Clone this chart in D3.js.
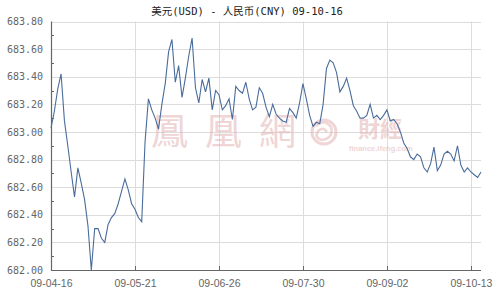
<!DOCTYPE html>
<html>
<head>
<meta charset="utf-8">
<script src="https://cdn.jsdelivr.net/npm/d3@7"></script>
<style>
  body { margin: 0; background: #fff; }
  svg { display: block; }
</style>
</head>
<body>
<div id="chart"></div>
<script>
// USD / CNY daily rate, 09-04-16 .. 09-10-16
const title = "美元(USD) - 人民币(CNY)  09-10-16";
const tickLabels = ["09-04-16", "09-05-21", "09-06-26", "09-07-30", "09-09-02", "09-10-13"];
const tickIndex = [0, 25, 50, 75, 100, 125];
const yTicks = [682.0, 682.2, 682.4, 682.6, 682.8, 683.0, 683.2, 683.4, 683.6, 683.8];
const yMinor = [682.1, 682.3, 682.5, 682.7, 682.9, 683.1, 683.3, 683.5, 683.7];
const rates = [
  683.03, 683.15, 683.31, 683.42, 683.08, 682.90, 682.71, 682.53, 682.74, 682.63,
  682.51, 682.32, 682.00, 682.30, 682.30, 682.23, 682.20, 682.33, 682.38, 682.41,
  682.48, 682.57, 682.66, 682.58, 682.48, 682.44, 682.38, 682.35, 682.93, 683.24,
  683.16, 683.10, 683.02, 683.20, 683.35, 683.58, 683.67, 683.36, 683.48, 683.25,
  683.39, 683.55, 683.68, 683.32, 683.21, 683.38, 683.29, 683.39, 683.16, 683.30,
  683.27, 683.16, 683.19, 683.24, 683.09, 683.33, 683.30, 683.28, 683.36, 683.24,
  683.16, 683.18, 683.32, 683.28, 683.18, 683.11, 683.20, 683.13, 683.10, 683.08,
  683.07, 683.17, 683.14, 683.10, 683.21, 683.35, 683.24, 683.12, 683.04, 683.07,
  683.06, 683.20, 683.46, 683.52, 683.50, 683.43, 683.29, 683.33, 683.39, 683.30,
  683.19, 683.15, 683.10, 683.10, 683.12, 683.20, 683.10, 683.12, 683.09, 683.12,
  683.16, 683.08, 683.09, 683.06, 683.00, 682.92, 682.88, 682.82, 682.80, 682.84,
  682.82, 682.74, 682.71, 682.77, 682.89, 682.72, 682.76, 682.84, 682.86, 682.84,
  682.79, 682.90, 682.76, 682.71, 682.74, 682.71, 682.69, 682.67, 682.71
];

const W = 500, H = 300;
const plotL = 51, plotR = 481, plotT = 21.5, plotB = 270;

const svg = d3.select("#chart")
  .append("svg")
    .attr("width", W)
    .attr("height", H);

const x = d3.scaleLinear()
  .domain([0, rates.length - 1])
  .range([plotL, plotR]);

const y = d3.scaleLinear()
  .domain([682, 683.8])
  .range([plotB, plotT]);

// grid
svg.append("g")
  .selectAll("line")
  .data(yTicks.slice(1))
  .enter()
  .append("line")
    .attr("x1", plotL).attr("x2", plotR)
    .attr("y1", d => Math.round(y(d)) + 0.5)
    .attr("y2", d => Math.round(y(d)) + 0.5)
    .attr("stroke", "#dcdcdc");

svg.append("g")
  .selectAll("line")
  .data(tickIndex.slice(1))
  .enter()
  .append("line")
    .attr("x1", d => Math.round(x(d)) + 0.5)
    .attr("x2", d => Math.round(x(d)) + 0.5)
    .attr("y1", plotT).attr("y2", plotB)
    .attr("stroke", "#dcdcdc");

// watermark
const wm = svg.append("g").attr("fill", "#e2b4b4").attr("opacity", 0.55);
wm.append("text")
  .attr("x", 151).attr("y", 145)
  .attr("font-family", "'Noto Sans CJK TC'")
  .attr("font-size", 37)
  .attr("letter-spacing", 17)
  .text("鳳凰網");
wm.append("circle")
  .attr("cx", 324).attr("cy", 132).attr("r", 12)
  .attr("fill", "none").attr("stroke", "#e2b4b4").attr("stroke-width", 3);
wm.append("path")
  .attr("d", "M316,126 Q324,118 331,127 Q334,138 322,140 Q314,138 318,131 Q323,126 327,132")
  .attr("fill", "none").attr("stroke", "#e2b4b4").attr("stroke-width", 2.5);
wm.append("text")
  .attr("x", 358).attr("y", 137)
  .attr("font-family", "'Noto Sans CJK TC'")
  .attr("font-weight", "bold")
  .attr("font-size", 22)
  .text("財經");
wm.append("text")
  .attr("x", 349).attr("y", 151)
  .attr("font-family", "'Liberation Sans'")
  .attr("font-weight", "bold")
  .attr("font-size", 7.5)
  .text("finance.ifeng.com");

// axes
const yAxis = svg.append("g")
  .attr("transform", "translate(" + plotL + ",0)")
  .call(d3.axisLeft(y).tickValues(yTicks).tickFormat(d3.format(".2f")).tickSize(0).tickPadding(8));
yAxis.select(".domain").remove();
yAxis.selectAll("text")
  .attr("fill", "#666")
  .style("font-family", "'DejaVu Sans Mono', monospace")
  .style("font-size", "10px");

const xAxis = svg.append("g")
  .attr("transform", "translate(0," + plotB + ")")
  .call(d3.axisBottom(x).tickValues(tickIndex).tickFormat((d, i) => tickLabels[i]).tickSize(0).tickPadding(10));
xAxis.select(".domain").remove();
xAxis.selectAll("text")
  .attr("fill", "#666")
  .style("font-family", "'Liberation Sans', Arial, sans-serif")
  .style("font-size", "10.5px");

svg.append("g")
  .selectAll("line")
  .data(yMinor)
  .enter()
  .append("line")
    .attr("x1", plotL).attr("x2", plotL + 3)
    .attr("y1", d => Math.round(y(d)) + 0.5)
    .attr("y2", d => Math.round(y(d)) + 0.5)
    .attr("stroke", "#666");

svg.append("g")
  .selectAll("line")
  .data(tickIndex.slice(1))
  .enter()
  .append("line")
    .attr("x1", d => Math.round(x(d)) + 0.5)
    .attr("x2", d => Math.round(x(d)) + 0.5)
    .attr("y1", plotB - 4).attr("y2", plotB)
    .attr("stroke", "#666");

svg.append("line")
  .attr("x1", plotL + 0.5).attr("x2", plotL + 0.5)
  .attr("y1", plotT).attr("y2", plotB + 0.5)
  .attr("stroke", "#666").attr("stroke-width", 1.2);
svg.append("line")
  .attr("x1", plotL).attr("x2", plotR)
  .attr("y1", plotB + 0.5).attr("y2", plotB + 0.5)
  .attr("stroke", "#666").attr("stroke-width", 1.2);

// rate line
svg.append("path")
  .datum(rates)
  .attr("fill", "none")
  .attr("stroke", "#4a6c9c")
  .attr("stroke-width", 1.1)
  .attr("d", d3.line().x((d, i) => x(i)).y(d => y(d)));

// title
svg.append("text")
  .attr("x", 247).attr("y", 14.5)
  .attr("text-anchor", "middle")
  .attr("fill", "#222")
  .style("font-family", "'DejaVu Sans Mono', 'Noto Sans CJK SC', monospace")
  .style("font-size", "10.5px")
  .text(title);
</script>
</body>
</html>
